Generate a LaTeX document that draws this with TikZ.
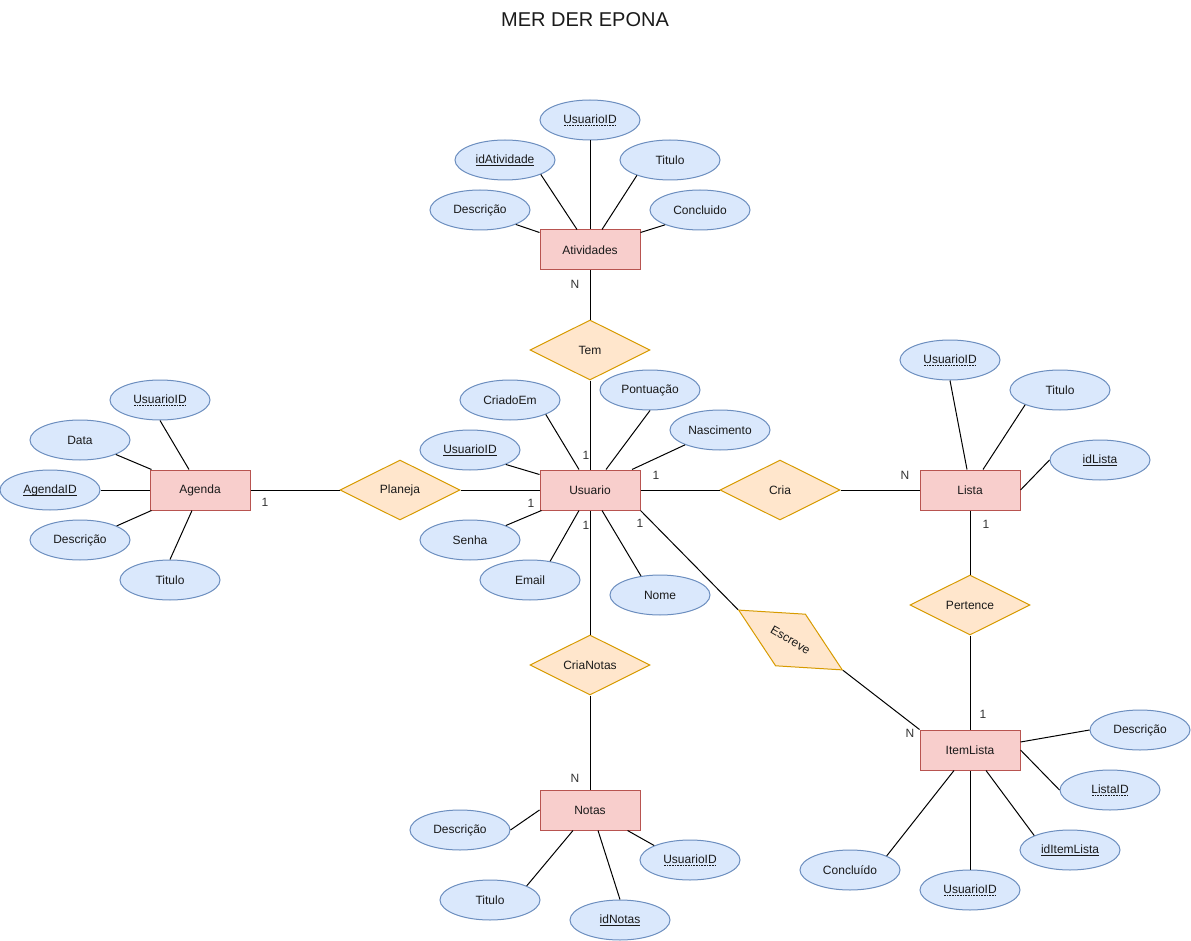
\documentclass[tikz,border=0pt]{standalone}
\usepackage{fontspec}
\setmainfont{Liberation Sans}
\usetikzlibrary{shapes.geometric}

\definecolor{entfill}{HTML}{F8CECC}
\definecolor{entline}{HTML}{B85450}
\definecolor{attfill}{HTML}{DAE8FC}
\definecolor{attline}{HTML}{6C8EBF}
\definecolor{relfill}{HTML}{FFE6CC}
\definecolor{relline}{HTML}{D79B00}
\definecolor{cardtext}{HTML}{333333}
\definecolor{labeltext}{HTML}{1A1A1A}

% primary key: solid underline, foreign key: dotted underline
\newsavebox\keybox
\newcommand\pkey[1]{\sbox\keybox{#1}\rlap{\raisebox{-2.6pt}{\rule{\wd\keybox}{0.8pt}}}\usebox\keybox}
\newcommand\fkey[1]{\sbox\keybox{#1}\rlap{\raisebox{-2.6pt}{\hbox to \wd\keybox{\leaders\hbox to 1.6pt{\hss\rule{0.8pt}{0.8pt}\hss}\hfill}}}\usebox\keybox}

\begin{document}
\begin{tikzpicture}[x=1pt,y=-1pt,
  every node/.style={font=\fontsize{12}{14}\selectfont, text=labeltext},
  ent/.style={draw=entline, fill=entfill, minimum width=100pt, minimum height=40pt, inner sep=0pt, line width=1pt},
  attr/.style={ellipse, draw=attline, fill=attfill, minimum width=100pt, minimum height=40pt, inner sep=0pt, line width=1pt},
  rel/.style={diamond, aspect=2, draw=relline, fill=relfill, minimum width=120pt, minimum height=60pt, inner sep=0pt, line width=1pt},
  link/.style={draw=black, line width=1pt},
  card/.style={text=cardtext, inner sep=0pt}
]
\useasboundingbox (0,0) rectangle (1191,941);

% title
\node (title) at (585,20) {\fontsize{20}{24}\selectfont MER DER EPONA};

% entities
\node[ent] (atv) at (590,250) {Atividades};
\node[ent] (us)  at (590,490) {Usuario};
\node[ent] (ag)  at (200,490) {Agenda};
\node[ent] (li)  at (970,490) {Lista};
\node[ent] (it)  at (970,750) {ItemLista};
\node[ent] (no)  at (590,810) {Notas};

% relationships
\node[rel] (tem) at (590,350) {Tem};
\node[rel] (pla) at (400,490) {Planeja};
\node[rel] (cri) at (780,490) {Cria};
\node[rel] (crn) at (590,665) {CriaNotas};
\node[rel] (per) at (970,605) {Pertence};
\node[rel, rotate=-30] (esc) at (790.5,640) {Escreve};

% attributes of Atividades
\node[attr] (uid1)  at (590,120) {\fkey{UsuarioID}};
\node[attr] (idatv) at (505,160) {\pkey{idAtividade}};
\node[attr] (tit1)  at (670,160) {Titulo};
\node[attr] (desc1) at (480,210) {Descrição};
\node[attr] (conc1) at (700,210) {Concluido};

% attributes of Agenda
\node[attr] (uid2)  at (160,400) {\fkey{UsuarioID}};
\node[attr] (data)  at (80,440)  {Data};
\node[attr] (agid)  at (50,490)  {\pkey{AgendaID}};
\node[attr] (desc2) at (80,540)  {Descrição};
\node[attr] (tit2)  at (170,580) {Titulo};

% attributes of Usuario
\node[attr] (criado) at (510,400) {CriadoEm};
\node[attr] (uid3)   at (470,450) {\pkey{UsuarioID}};
\node[attr] (pont)   at (650,390) {Pontuação};
\node[attr] (nasc)   at (720,430) {Nascimento};
\node[attr] (senha)  at (470,540) {Senha};
\node[attr] (email)  at (530,580) {Email};
\node[attr] (nome)   at (660,595) {Nome};

% attributes of Lista
\node[attr] (uid4) at (950,360)  {\fkey{UsuarioID}};
\node[attr] (tit4) at (1060,390) {Titulo};
\node[attr] (idl)  at (1100,460) {\pkey{idLista}};

% attributes of ItemLista
\node[attr] (desc5) at (1140,730) {Descrição};
\node[attr] (lid)   at (1110,790) {\fkey{ListaID}};
\node[attr] (iil)   at (1070,850) {\pkey{idItemLista}};
\node[attr] (uid5)  at (970,890)  {\fkey{UsuarioID}};
\node[attr] (concl) at (850,870)  {Concluído};

% attributes of Notas
\node[attr] (desc6) at (460,830) {Descrição};
\node[attr] (tit6)  at (490,900) {Titulo};
\node[attr] (idn)   at (620,920) {\pkey{idNotas}};
\node[attr] (uid6)  at (690,860) {\fkey{UsuarioID}};

% relationship links
\draw[link] (atv.south) -- (tem.north);
\draw[link] (tem.south) -- (us.north);
\draw[link] (ag.east) -- (pla.west);
\draw[link] (pla.east) -- (us.west);
\draw[link] (us.east) -- (cri.west);
\draw[link] (cri.east) -- (li.west);
\draw[link] (us.south) -- (crn.north);
\draw[link] (crn.south) -- (no.north);
\draw[link] (li.south) -- (per.north);
\draw[link] (per.south) -- (it.north);
\draw[link] (us.south east) -- (esc.west);
\draw[link] (esc.east) -- (it.north west);

% attribute links: Atividades
\draw[link] (uid1.south) -- (atv.north);
\draw[link] (idatv.-22) -- ([xshift=-13pt]atv.north);
\draw[link] (tit1.205) -- ([xshift=12pt]atv.north);
\draw[link] (desc1.-22) -- ([yshift=-3pt]atv.north west);
\draw[link] (conc1.203) -- ([yshift=-3pt]atv.north east);

% attribute links: Agenda
\draw[link] (uid2.south) -- ([xshift=-11pt]ag.north);
\draw[link] (data.-22) -- ([xshift=2pt]ag.north west);
\draw[link] (agid.east) -- (ag.west);
\draw[link] (desc2.21) -- ([xshift=2pt]ag.south west);
\draw[link] (tit2.north) -- ([xshift=-8pt]ag.south);

% attribute links: Usuario
\draw[link] (criado.-22) -- ([xshift=-11pt]us.north);
\draw[link] (uid3.-22) -- ([yshift=-5pt]us.north west);
\draw[link] (pont.south) -- ([xshift=16pt]us.north);
\draw[link] (nasc.203) -- ([xshift=42pt]us.north);
\draw[link] (senha.22) -- ([xshift=2pt]us.south west);
\draw[link] (email.43) -- ([xshift=-11pt]us.south);
\draw[link] (nome.135) -- ([xshift=12pt]us.south);

% attribute links: Lista
\draw[link] (uid4.south) -- ([xshift=-3pt]li.north);
\draw[link] (tit4.203) -- ([xshift=13pt]li.north);
\draw[link] (idl.west) -- (li.east);

% attribute links: ItemLista
\draw[link] (desc5.west) -- ([yshift=8pt]it.east);
\draw[link] (lid.west) -- (it.east);
\draw[link] (iil.158) -- ([xshift=16pt]it.south);
\draw[link] (uid5.north) -- (it.south);
\draw[link] (concl.21) -- ([xshift=-16pt]it.south);

% attribute links: Notas
\draw[link] (desc6.east) -- (no.west);
\draw[link] (tit6.21) -- ([xshift=-17pt]no.south);
\draw[link] (idn.north) -- ([xshift=8pt]no.south);
\draw[link] (uid6.158) -- ([xshift=-13pt]no.south east);

% cardinalities
\node[card] (c1)  at (575,284) {N};
\node[card] (c2)  at (586,455) {1};
\node[card] (c3)  at (531,503) {1};
\node[card] (c4)  at (265,502) {1};
\node[card] (c5)  at (656,475) {1};
\node[card] (c6)  at (905,475) {N};
\node[card] (c7)  at (986,524) {1};
\node[card] (c8)  at (983,714) {1};
\node[card] (c9)  at (910,733) {N};
\node[card] (c10) at (586,525) {1};
\node[card] (c11) at (640,523) {1};
\node[card] (c12) at (575,778) {N};
\end{tikzpicture}
\end{document}
